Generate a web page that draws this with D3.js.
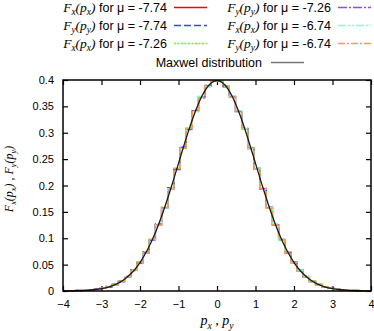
<!DOCTYPE html>
<html>
<head>
<meta charset="utf-8">
<script src="https://cdn.jsdelivr.net/npm/d3@7"></script>
<style>
  body { margin: 0; background: #fff; }
  svg { display: block; }
</style>
</head>
<body>
<div id="chart"></div>
<script>
// bin centres of the histograms (50 bins of width 0.16 between -4 and 4)
const pBins = d3.range(50).map(i => -3.92 + i * 0.16);
// grid for the Maxwell curve
const pCurve = d3.range(-20, 21).map(i => i / 5);

const xTicks = [-4, -3, -2, -1, 0, 1, 2, 3, 4];
const yTicks = [0, 0.05, 0.1, 0.15, 0.2, 0.25, 0.3, 0.35, 0.4];

// histogram values, one array per series
const fxA = [0.000,0.000,0.001,0.001,0.002,0.003,0.005,0.008,0.012,0.018,0.027,0.039,0.054,0.073,0.097,0.126,0.158,0.194,0.232,0.271,0.308,0.341,0.368,0.388,0.398,
             0.398,0.388,0.368,0.341,0.308,0.271,0.232,0.194,0.158,0.126,0.097,0.073,0.054,0.039,0.027,0.018,0.012,0.008,0.005,0.003,0.002,0.001,0.001,0.000,0.000];
const fyA = [0.000,0.000,0.001,0.001,0.002,0.003,0.005,0.008,0.013,0.018,0.026,0.040,0.053,0.074,0.096,0.127,0.157,0.196,0.230,0.273,0.306,0.343,0.366,0.390,0.397,
             0.399,0.387,0.369,0.340,0.309,0.270,0.233,0.193,0.159,0.125,0.098,0.072,0.055,0.038,0.028,0.018,0.012,0.008,0.005,0.003,0.002,0.001,0.000,0.000,0.000];
const fxB = [0.000,0.000,0.000,0.001,0.002,0.003,0.006,0.008,0.012,0.019,0.027,0.038,0.055,0.072,0.098,0.125,0.159,0.193,0.233,0.270,0.309,0.340,0.369,0.387,0.399,
             0.397,0.389,0.367,0.342,0.307,0.272,0.231,0.195,0.157,0.127,0.096,0.074,0.053,0.040,0.026,0.019,0.011,0.008,0.005,0.003,0.002,0.001,0.001,0.000,0.000];
const fyB = [0.000,0.000,0.001,0.001,0.002,0.004,0.005,0.007,0.012,0.018,0.028,0.039,0.054,0.073,0.097,0.126,0.158,0.195,0.231,0.272,0.307,0.342,0.367,0.389,0.398,
             0.398,0.388,0.368,0.341,0.308,0.271,0.232,0.194,0.158,0.126,0.097,0.073,0.054,0.039,0.027,0.018,0.013,0.007,0.005,0.003,0.002,0.001,0.001,0.000,0.000];
const fxC = [0.000,0.000,0.001,0.001,0.002,0.003,0.005,0.008,0.012,0.017,0.027,0.039,0.053,0.073,0.097,0.127,0.157,0.194,0.233,0.270,0.308,0.340,0.369,0.388,0.397,
             0.399,0.388,0.367,0.342,0.308,0.270,0.233,0.193,0.158,0.127,0.096,0.073,0.054,0.039,0.028,0.017,0.012,0.008,0.004,0.003,0.002,0.001,0.000,0.000,0.000];
const fyC = [0.000,0.000,0.000,0.001,0.002,0.003,0.005,0.009,0.012,0.018,0.027,0.038,0.055,0.072,0.098,0.125,0.159,0.193,0.232,0.271,0.309,0.341,0.367,0.389,0.398,
             0.397,0.389,0.368,0.340,0.309,0.272,0.231,0.195,0.157,0.125,0.098,0.072,0.055,0.038,0.027,0.019,0.012,0.008,0.005,0.003,0.002,0.001,0.001,0.000,0.000];

// Maxwell distribution on pCurve
const maxwell = [0.0001,0.0003,0.0006,0.0012,0.0024,0.0044,0.0079,0.0136,0.0224,0.0355,0.0540,0.0790,0.1109,0.1497,0.1942,0.2420,0.2897,0.3332,0.3683,0.3910,0.3989,0.3910,0.3683,0.3332,0.2897,0.2420,0.1942,0.1497,0.1109,0.0790,0.0540,0.0355,0.0224,0.0136,0.0079,0.0044,0.0024,0.0012,0.0006,0.0003,0.0001];

const seriesNames = [
  { f: "x", mu: "-7.74" }, { f: "y", mu: "-7.74" }, { f: "x", mu: "-7.26" },
  { f: "y", mu: "-7.26" }, { f: "x", mu: "-6.74" }, { f: "y", mu: "-6.74" }
];
const seriesValues = [fxA, fyA, fxB, fyB, fxC, fyC];
const seriesColors = ["#ff0000", "#1f4fff", "#66ff00", "#9b45f5", "#80ffd0", "#f5a050"];
const seriesDash = [null, "7,3", "2,1.5", "9,2,2,2", "8,2,2,2,2,2", "7,2,2,2"];

const width = 374, height = 331;
const margin = { left: 63, right: 3, top: 80, bottom: 40 };

const svg = d3.select("#chart").append("svg")
  .attr("width", width)
  .attr("height", height);

const x = d3.scaleLinear().domain([-4, 4]).range([margin.left, width - margin.right]);
const y = d3.scaleLinear().domain([0, 0.4]).range([height - margin.bottom, margin.top]);

const sans = "'Liberation Sans', Arial, sans-serif";
const serif = "'Liberation Serif', 'Times New Roman', serif";

// ticks on all four sides, pointing inward
const tickLen = 5;
svg.append("g")
  .attr("transform", `translate(0,${y(0)})`)
  .call(d3.axisBottom(x).tickValues(xTicks).tickSize(-tickLen).tickPadding(9).tickFormat(d3.format("d")))
  .call(g => g.select(".domain").remove());
svg.append("g")
  .attr("transform", `translate(0,${y(0.4)})`)
  .call(d3.axisTop(x).tickValues(xTicks).tickSize(-tickLen).tickFormat(""))
  .call(g => g.select(".domain").remove());
svg.append("g")
  .attr("transform", `translate(${x(-4)},0)`)
  .call(d3.axisLeft(y).tickValues(yTicks).tickSize(-tickLen).tickPadding(9).tickFormat(d => String(d)))
  .call(g => g.select(".domain").remove());
svg.append("g")
  .attr("transform", `translate(${x(4)},0)`)
  .call(d3.axisRight(y).tickValues(yTicks).tickSize(-tickLen).tickFormat(""))
  .call(g => g.select(".domain").remove());

svg.selectAll(".tick line").attr("stroke", "#000").attr("stroke-width", 1.2);
svg.selectAll(".tick text").attr("font-family", sans).attr("font-size", 11).attr("fill", "#000");

// histogram steps
const step = d3.line()
  .x((d, i) => x(pBins[i]))
  .y(d => y(d))
  .curve(d3.curveStep);

seriesValues.forEach((vals, k) => {
  svg.append("path")
    .datum(vals)
    .attr("d", step)
    .style("fill", "none")
    .style("stroke", seriesColors[k])
    .style("stroke-width", k === 5 ? 1.5 : 1.3)
    .style("stroke-dasharray", seriesDash[k] || "none");
});

const smooth = d3.line()
  .x((d, i) => x(pCurve[i]))
  .y(d => y(d))
  .curve(d3.curveMonotoneX);

svg.append("path")
  .datum(maxwell)
  .attr("d", smooth)
  .style("fill", "none")
  .style("stroke", "#1a1a1a")
  .style("stroke-width", 1.3);

// frame
svg.append("rect")
  .attr("x", x(-4)).attr("y", y(0.4))
  .attr("width", x(4) - x(-4)).attr("height", y(0) - y(0.4))
  .attr("fill", "none").attr("stroke", "#000").attr("stroke-width", 1.5);

// rich text helper: parts of [text, kind]; kind: "i" italic serif, "s" subscript, "n" sans
function richText(sel, parts, size) {
  let shift = 0;
  parts.forEach(([t, kind]) => {
    const ts = sel.append("tspan").text(t);
    if (kind === "s") {
      ts.attr("font-family", serif).attr("font-style", "italic")
        .attr("font-size", size * 0.75);
      if (!shift) { shift = size * 0.28; ts.attr("dy", shift); }
      return;
    }
    if (shift) { ts.attr("dy", -shift); shift = 0; }
    if (kind === "n") {
      ts.attr("font-family", sans).attr("font-size", size);
    } else {
      ts.attr("font-family", serif).attr("font-style", "italic").attr("font-size", size + 1);
    }
  });
}

function fLabel(f) {
  return [["F", "i"], [f, "s"], ["(p", "i"], [f, "s"], [")", "i"]];
}

// legend
const legendRows = [7, 25, 43];
seriesNames.forEach((s, k) => {
  const col = Math.floor(k / 3), row = k % 3;
  const tx = col === 0 ? 167 : 331;
  const ly = legendRows[row];
  const t = svg.append("text")
    .attr("x", tx).attr("y", ly + 4.5)
    .attr("text-anchor", "end")
    .attr("fill", "#000");
  richText(t, fLabel(s.f).concat([[" for \u03bc = " + s.mu, "n"]]), 12.5);
  svg.append("path")
    .attr("d", `M${tx + 7},${ly + 0.5}H${tx + 40}`)
    .style("fill", "none")
    .style("stroke", seriesColors[k])
    .style("stroke-width", 1.5)
    .style("stroke-dasharray", seriesDash[k] || "none");
});

svg.append("text")
  .attr("x", 262).attr("y", 66.5)
  .attr("text-anchor", "end")
  .attr("font-family", sans).attr("font-size", 12.5)
  .text("Maxwel distribution");
svg.append("path")
  .attr("d", "M271,62.5H304")
  .style("stroke", "#777").style("stroke-width", 1.5);

// axis titles
const xt = svg.append("text")
  .attr("x", x(0)).attr("y", 325)
  .attr("text-anchor", "middle");
richText(xt, [["p", "i"], ["x", "s"], [" , ", "i"], ["p", "i"], ["y", "s"]], 13);

const yt = svg.append("text")
  .attr("transform", "translate(13,179) rotate(-90)")
  .attr("text-anchor", "middle");
richText(yt, fLabel("x").concat([[" , ", "i"]], fLabel("y")), 11);
</script>
</body>
</html>
